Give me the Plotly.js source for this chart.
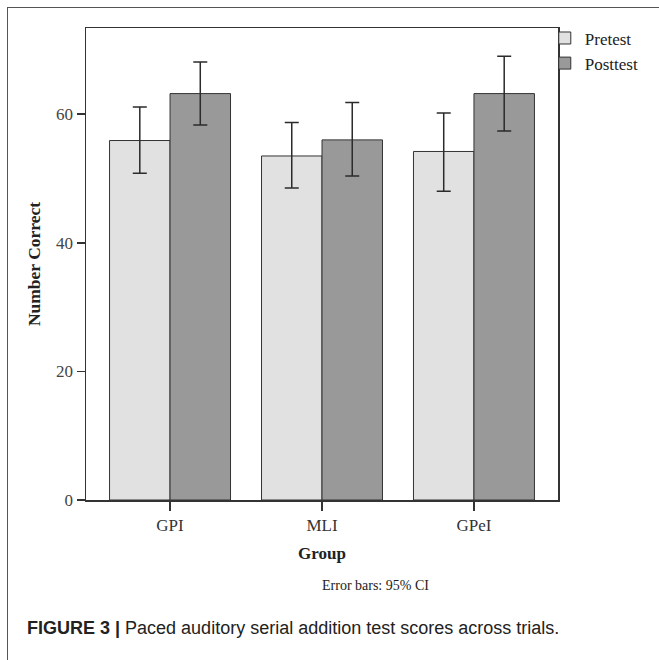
<!DOCTYPE html>
<html>
<head>
<meta charset="utf-8">
<script src="https://cdn.plot.ly/plotly-3.0.1.min.js"></script>
<style>
html,body{margin:0;padding:0;background:#fff;}
#frame{position:absolute;left:7px;top:7px;width:660px;height:660px;border-left:1.5px solid #555;border-top:1.5px solid #555;box-sizing:border-box;pointer-events:none;}
</style>
</head>
<body>
<div id="chart" style="width:659px;height:660px;"></div>
<div id="frame"></div>
<script>
// Data
const groups = ["GPI", "MLI", "GPeI"];
const pretestMean = [55.9, 53.5, 54.2];
const pretestUpper = [61.1, 58.7, 60.2];
const pretestLower = [50.8, 48.5, 48.0];
const posttestMean = [63.2, 56.0, 63.2];
const posttestUpper = [68.1, 61.8, 69.0];
const posttestLower = [58.3, 50.4, 57.4];
const yTicks = [0, 20, 40, 60];

const plus = (u, m) => u.map((v, i) => +(v - m[i]).toFixed(2));
const minus = (l, m) => l.map((v, i) => +(m[i] - v).toFixed(2));

const serif = "Liberation Serif, Times New Roman, serif";
const errStyle = {type: "data", visible: true, color: "#2b2b2b", thickness: 1.5, width: 7};

const traces = [
  {
    type: "bar", name: "Pretest", x: groups, y: pretestMean,
    marker: {color: "#e1e1e1", line: {color: "#333", width: 1}},
    error_y: Object.assign({array: plus(pretestUpper, pretestMean), arrayminus: minus(pretestLower, pretestMean), symmetric: false}, errStyle)
  },
  {
    type: "bar", name: "Posttest", x: groups, y: posttestMean,
    marker: {color: "#999999", line: {color: "#333", width: 1}},
    error_y: Object.assign({array: plus(posttestUpper, posttestMean), arrayminus: minus(posttestLower, posttestMean), symmetric: false}, errStyle)
  }
];

const layout = {
  width: 659, height: 660,
  margin: {l: 86, r: 101, t: 28, b: 160},
  paper_bgcolor: "#fff", plot_bgcolor: "#fff",
  barmode: "group", bargap: 0.204, bargroupgap: 0,
  showlegend: true,
  legend: {
    x: 0.972, xanchor: "left", y: 1.016, yanchor: "top",
    bgcolor: "rgba(0,0,0,0)", borderwidth: 0,
    font: {family: serif, size: 17, color: "#222"},
    tracegroupgap: 0
  },
  xaxis: {
    type: "category", range: [-0.553, 2.553],
    showline: true, linecolor: "#333", linewidth: 1.5, mirror: true,
    ticks: "outside", ticklen: 9, tickwidth: 1.5, tickcolor: "#333",
    showgrid: false, zeroline: false,
    tickfont: {family: serif, size: 17, color: "#333"},
    title: {text: "Group", font: {family: serif, size: 17, color: "#222", weight: "bold"}, standoff: 13},
    automargin: false
  },
  yaxis: {
    range: [0, 73.4], tickvals: yTicks, ticktext: yTicks.map(String),
    showline: true, linecolor: "#333", linewidth: 1.5, mirror: true,
    ticks: "outside", ticklen: 8, tickwidth: 1.5, tickcolor: "#333",
    showgrid: false, zeroline: false,
    tickfont: {family: serif, size: 17, color: "#444"},
    title: {text: "Number Correct", font: {family: serif, size: 17.5, color: "#222", weight: "bold"}, standoff: 11},
    automargin: false
  },
  annotations: [
    {
      text: "Error bars: 95% CI", xref: "paper", yref: "paper",
      x: 0.614, y: -0.182, xanchor: "center", yanchor: "middle", showarrow: false,
      font: {family: serif, size: 14, color: "#222"}
    },
    {
      text: "<b>FIGURE 3 |</b> Paced auditory serial addition test scores across trials.",
      xref: "paper", yref: "paper", x: -0.129, y: -0.271, xanchor: "left", yanchor: "middle",
      showarrow: false, font: {family: "Liberation Sans, Arial, sans-serif", size: 18, color: "#222"}
    }
  ]
};

Plotly.newPlot("chart", traces, layout, {displayModeBar: false, staticPlot: true});
</script>
</body>
</html>
